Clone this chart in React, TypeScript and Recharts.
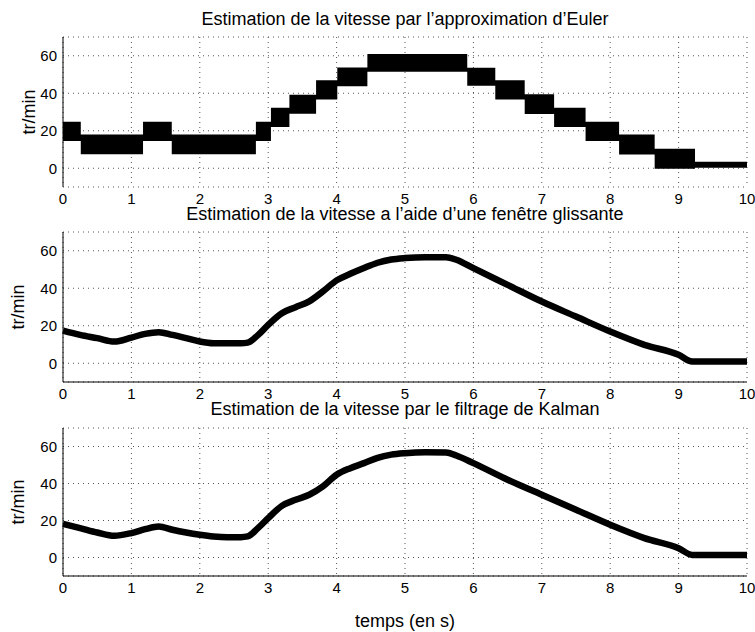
import { ComposedChart, Line, Area, XAxis, YAxis, CartesianGrid } from "recharts";

const xTicks = [0, 1, 2, 3, 4, 5, 6, 7, 8, 9, 10];
const yTicks = [0, 20, 40, 60];

// Euler: paliers (bande min/max) qui commencent à chaque instant
const eulerTime = [0, 0.26, 1.17, 1.59, 2.82, 3.04, 3.31, 3.7, 4.01, 4.45, 5.91, 6.32, 6.75, 7.18, 7.64, 8.13, 8.65, 9.24, 10];
const eulerLow = [14.6, 7.5, 14.6, 7.5, 14.6, 22, 29.1, 36.7, 43.8, 51.5, 44, 36.7, 29, 22, 14.6, 7.3, -0.3, 0.3, 0.3];
const eulerHigh = [24.8, 18, 24.8, 18, 24.8, 32.3, 39.2, 47, 53.8, 61, 53.6, 47, 39.5, 32.3, 24.8, 18, 10.4, 3.5, 3.5];

const smoothTime = [0, 0.25, 0.5, 0.75, 1, 1.2, 1.4, 1.6, 1.8, 2, 2.2, 2.4, 2.6, 2.7, 2.85, 3, 3.2, 3.4, 3.6, 3.8, 4, 4.2, 4.4, 4.6, 4.8, 5, 5.3, 5.6, 5.75, 6, 6.5, 7, 7.5, 8, 8.5, 9, 9.2, 10];
const windowSpeed = [17.4, 15.1, 13.4, 11.6, 13.7, 15.7, 16.6, 15.1, 13.4, 11.6, 10.7, 10.7, 10.7, 11, 15, 20.5, 26.7, 29.9, 33, 38.3, 44.2, 47.7, 50.8, 53.6, 55.3, 56.1, 56.6, 56.6, 55.2, 50.7, 41.8, 32.9, 24.9, 16.9, 9.8, 4.5, 0.9, 0.9];
const kalmanSpeed = [18.2, 15.9, 13.5, 11.7, 13.2, 15.3, 16.8, 15, 13.5, 12.3, 11.4, 11, 11, 11.4, 15.9, 21.3, 27.9, 31.2, 33.9, 38.4, 44.7, 48.3, 51, 53.9, 55.6, 56.4, 56.9, 56.8, 55.1, 51, 42, 33.9, 25.8, 17.7, 10.5, 5, 1.4, 1.4];

const eulerData = eulerTime.map((t, i) => ({ t, band: [eulerLow[i], eulerHigh[i]] }));
const windowData = smoothTime.map((t, i) => ({ t, v: windowSpeed[i] }));
const kalmanData = smoothTime.map((t, i) => ({ t, v: kalmanSpeed[i] }));

const FONT = "'Liberation Sans', Arial, Helvetica, sans-serif";

const Panel = ({ top, height, marginTop, marginBottom, data, topLine, bottomLine, labelOffset, children }: any) => (
  <div style={{ position: "absolute", left: 0, top }}>
    <ComposedChart
      width={755}
      height={height}
      data={data}
      margin={{ top: marginTop, right: 8, bottom: marginBottom, left: 23 }}
      style={{ fontFamily: FONT }}
    >
      <CartesianGrid stroke="#555" strokeDasharray="1 4" />
      <XAxis
        dataKey="t"
        type="number"
        domain={[0, 10]}
        ticks={xTicks}
        interval={0}
        height={20}
        tickLine={false}
        tickSize={6}
        tickMargin={0}
        axisLine={bottomLine ? { stroke: "#000" } : false}
        tick={{ fill: "#000", fontSize: 15 }}
      />
      <XAxis xAxisId="bm" type="number" domain={[0, 10]} ticks={xTicks} orientation="bottom" mirror height={0} tick={false} axisLine={false} tickSize={7} stroke="#000" />
      <XAxis xAxisId="tm" type="number" domain={[0, 10]} ticks={xTicks} orientation="top" mirror height={0} tick={false} axisLine={topLine ? { stroke: "#000" } : false} tickSize={7} stroke="#000" />
      <YAxis
        type="number"
        domain={[-10, 70]}
        ticks={yTicks}
        width={40}
        tickLine={false}
        tickSize={6}
        tickMargin={0}
        axisLine={{ stroke: "#000" }}
        tick={{ fill: "#000", fontSize: 15 }}
        label={{
          value: "tr/min",
          angle: -90,
          position: "insideLeft",
          offset: labelOffset,
          style: { textAnchor: "middle", fontSize: 18, fill: "#000" },
        }}
      />
      <YAxis yAxisId="lm" type="number" domain={[-10, 70]} ticks={yTicks} mirror width={0} tick={false} axisLine={false} tickSize={7} stroke="#000" />
      <YAxis yAxisId="rm" type="number" domain={[-10, 70]} ticks={yTicks} orientation="right" mirror width={0} tick={false} axisLine={{ stroke: "#000" }} tickSize={7} stroke="#000" />
      {children}
    </ComposedChart>
  </div>
);

const titleStyle = (top: number): React.CSSProperties => ({
  position: "absolute",
  left: 0,
  width: 810,
  top,
  textAlign: "center",
  fontFamily: FONT,
  fontSize: 18,
  lineHeight: "18px",
  color: "#000",
  whiteSpace: "nowrap",
});

export default function App() {
  return (
    <div style={{ position: "absolute", left: 0, top: 0, width: 755, height: 632, background: "#fff", overflow: "hidden" }}>
      <Panel top={0} height={210} marginTop={37} marginBottom={3} data={eulerData} topLine={false} bottomLine={false} labelOffset={6}>
        <Area dataKey="band" type="stepAfter" stroke="none" fill="#000" fillOpacity={1} isAnimationActive={false} />
      </Panel>
      <Panel top={200} height={210} marginTop={32} marginBottom={8} data={windowData} topLine={false} bottomLine={true} labelOffset={-5}>
        <Line dataKey="v" type="monotone" stroke="#000" strokeWidth={6.5} dot={false} isAnimationActive={false} />
      </Panel>
      <Panel top={400} height={200} marginTop={28} marginBottom={4} data={kalmanData} topLine={true} bottomLine={true} labelOffset={-5}>
        <Line dataKey="v" type="monotone" stroke="#000" strokeWidth={6.5} dot={false} isAnimationActive={false} />
      </Panel>
      <div style={titleStyle(10)}>Estimation de la vitesse par l’approximation d’Euler</div>
      <div style={titleStyle(205)}>Estimation de la vitesse a l’aide d’une fenêtre glissante</div>
      <div style={titleStyle(400)}>Estimation de la vitesse par le filtrage de Kalman</div>
      <div style={titleStyle(612)}>temps (en s)</div>
    </div>
  );
}
